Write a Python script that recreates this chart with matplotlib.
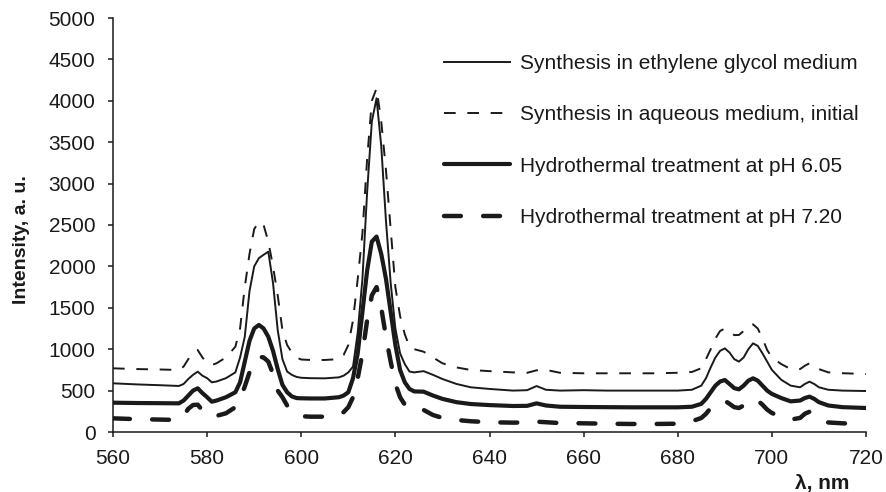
import matplotlib
matplotlib.use('Agg')
import matplotlib.pyplot as plt

plt.rcParams['font.family'] = ['Liberation Sans', 'DejaVu Sans']

# wavelength grid, nm
wl = [560, 565, 570, 574, 575, 576, 577, 578, 579, 580, 581, 582, 584, 586,
      587, 588, 589, 590, 591, 592, 593, 594, 595, 596, 597, 598, 599, 600,
      602, 605, 608, 609, 610, 611, 612, 613, 614, 615, 616, 617, 618, 619,
      620, 621, 622, 623, 624, 626, 628, 630, 633, 636, 640, 645, 648, 650,
      652, 655, 660, 665, 670, 675, 680, 683, 685, 686, 687, 688, 689, 690,
      691, 692, 693, 694, 695, 696, 697, 698, 699, 700, 702, 704, 706, 707,
      708, 709, 710, 712, 715, 720]

# synthesis in ethylene glycol medium
eg = [588, 575, 565, 556, 580, 640, 690, 729, 680, 650, 600, 610, 650, 720,
      900, 1150, 1700, 2000, 2100, 2140, 2178, 1800, 1230, 880, 730, 690, 665, 655,
      650, 648, 660, 680, 720, 790, 1200, 1850, 2900, 3750, 4030, 3450, 2550, 1800,
      1250, 950, 820, 730, 720, 735, 690, 640, 580, 540, 520, 500, 505, 555,
      510, 500, 505, 500, 500, 500, 500, 510, 560, 650, 780, 900, 980, 1010,
      960, 880, 850, 900, 1000, 1071, 1040, 950, 850, 750, 630, 560, 540, 580,
      608, 580, 540, 510, 500, 495]

# synthesis in aqueous medium, initial
aq = [769, 760, 755, 749, 790, 880, 960, 990, 900, 830, 809, 830, 900, 1030,
      1250, 1750, 2150, 2450, 2541, 2500, 2300, 2000, 1650, 1230, 1050, 960, 900, 875,
      870, 870, 880, 930, 1050, 1350, 1850, 2400, 3300, 4000, 4150, 3750, 3165, 2450,
      1750, 1400, 1180, 1030, 1000, 970, 900, 830, 780, 749, 735, 720, 715, 745,
      750, 715, 709, 709, 709, 709, 715, 725, 770, 880, 1000, 1130, 1220, 1250,
      1210, 1170, 1172, 1220, 1280, 1300, 1250, 1130, 990, 900, 820, 760, 760, 800,
      830, 800, 760, 720, 710, 700]

# hydrothermal treatment at pH 6.05
p605 = [354, 350, 348, 346, 380, 440, 500, 528, 470, 420, 366, 380, 420, 480,
        600, 850, 1100, 1250, 1293, 1250, 1150, 980, 760, 570, 480, 430, 410, 407,
        405, 405, 420, 440, 480, 650, 950, 1450, 1950, 2300, 2360, 2150, 1850, 1450,
        1050, 750, 600, 520, 490, 487, 440, 400, 360, 338, 325, 314, 316, 346,
        320, 305, 302, 300, 298, 298, 298, 305, 340, 400, 480, 560, 610, 628,
        580, 530, 515, 560, 620, 648, 620, 560, 500, 460, 410, 370, 380, 410,
        427, 400, 360, 320, 300, 290]

# hydrothermal treatment at pH 7.20
p720 = [165, 155, 150, 145, 200, 280, 326, 330, 260, 200, 185, 195, 226, 300,
        400, 550, 720, 850, 910, 900, 850, 700, 500, 420, 320, 250, 210, 190,
        185, 185, 210, 240, 300, 420, 650, 950, 1350, 1650, 1750, 1500, 1150, 850,
        580, 420, 330, 280, 265, 266, 205, 170, 145, 130, 118, 113, 115, 125,
        118, 108, 105, 100, 97, 97, 100, 130, 169, 220, 290, 340, 370, 378,
        340, 300, 290, 320, 380, 400, 380, 330, 270, 230, 180, 150, 170, 220,
        245, 200, 150, 115, 105, 97]

labels = ['Synthesis in ethylene glycol medium',
          'Synthesis in aqueous medium, initial',
          'Hydrothermal treatment at pH 6.05',
          'Hydrothermal treatment at pH 7.20']

col = '#1a1a1a'
fig = plt.figure(figsize=(8.86, 4.92), dpi=100)
ax = fig.add_axes([113 / 886, 60 / 492, 753 / 886, 414 / 492])

ax.plot(wl, eg, color=col, lw=1.4, label=labels[0])
ax.plot(wl, aq, color=col, lw=1.4, linestyle=(0, (6.0, 6.0)), label=labels[1])
ax.plot(wl, p605, color=col, lw=3.0, solid_capstyle='round', label=labels[2])
ax.plot(wl, p720, color=col, lw=3.2, linestyle=(0, (3.8, 5.0)), dash_capstyle='round',
        label=labels[3])

ax.set_xlim(560, 720)
ax.set_ylim(0, 5000)
ax.set_xticks(range(560, 721, 20))
ax.set_yticks(range(0, 5001, 500))
for s in ['top', 'right']:
    ax.spines[s].set_visible(False)
for s in ['left', 'bottom']:
    ax.spines[s].set_linewidth(1.1)
    ax.spines[s].set_color(col)
ax.tick_params(axis='both', direction='out', length=3.6, width=1.1, color=col,
               labelsize=15, labelcolor=col)
ax.tick_params(axis='y', pad=9)
ax.tick_params(axis='x', pad=9)

ax.set_ylabel('Intensity, a. u.', fontsize=14, fontweight='bold', color=col)
ax.yaxis.set_label_coords(-0.11, 0.466)
ax.set_xlabel('λ, nm', fontsize=15, fontweight='bold', color=col)
ax.xaxis.set_label_coords(0.942, -0.102)

ax.legend(loc='upper left', bbox_to_anchor=(444 / 886, 1 - 54 / 492),
          bbox_transform=fig.transFigure, frameon=False, fontsize=15,
          handlelength=3.17, handletextpad=0.48, labelspacing=1.55,
          borderpad=0, borderaxespad=0, labelcolor=col)

fig.savefig('out.png', dpi=100)
